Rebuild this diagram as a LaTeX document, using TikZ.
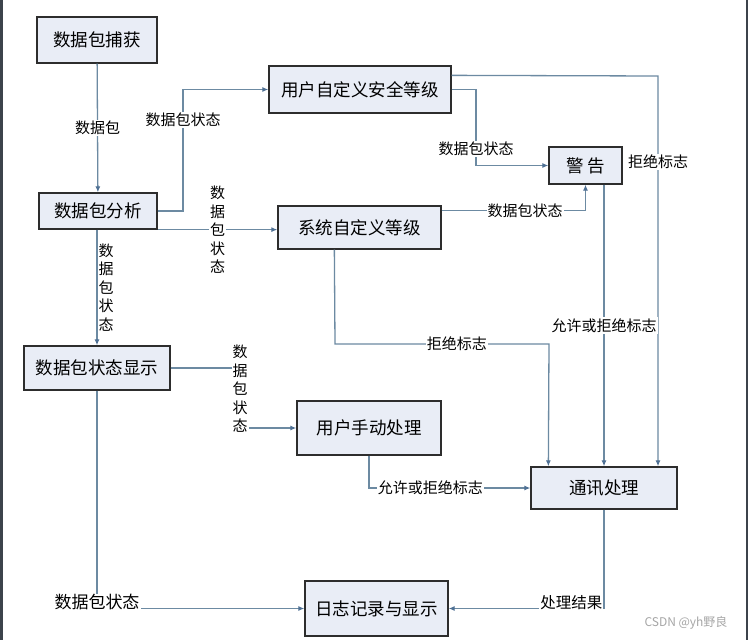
\documentclass[tikz,border=0pt]{standalone}
\usepackage{fontspec}
\usepackage{tikz}
\usetikzlibrary{arrows.meta}
\newfontfamily\cjk{Noto Sans CJK SC}
\definecolor{linec}{RGB}{108,138,162}
\definecolor{tipc}{RGB}{78,112,148}
\definecolor{boxfill}{RGB}{233,237,246}
\definecolor{boxline}{RGB}{45,45,45}
\definecolor{framec}{RGB}{60,67,75}

\begin{document}
\begin{tikzpicture}[x=1pt,y=-1pt]
\tikzstyle{box}=[draw=boxline, fill=boxfill, line width=1.3pt, inner sep=0pt, font=\cjk\fontsize{17.5}{20}\selectfont]
\tikzstyle{lbl}=[fill=white, inner sep=1pt, font=\cjk\fontsize{15}{18}\selectfont]
\tikzstyle{vlbl}=[lbl, align=center, font=\cjk\fontsize{15}{18.5}\selectfont]
\tikzstyle{flow}=[draw=linec, line width=1.3pt, -{Latex[length=6pt,width=5pt,color=tipc]}]
\useasboundingbox (0,0) rectangle (748,640);
\fill[white] (0,0) rectangle (748,640);
\fill[framec] (0,0) rectangle (2.5,640);
\fill[framec] (745.5,0) rectangle (748,640);
% boxes
\node[box, minimum width=120pt, minimum height=46pt] (cap) at (97,40) {数据包捕获};
\node[box, minimum width=118pt, minimum height=36pt] (ana) at (98,211) {数据包分析};
\node[box, minimum width=182pt, minimum height=47pt] (usr) at (360,89.5) {用户自定义安全等级};
\node[box, minimum width=163pt, minimum height=43pt] (sys) at (359.5,227.5) {系统自定义等级};
\node[box, minimum width=73pt, minimum height=37pt] (warn) at (585.5,165.5) {警\ 告};
\node[box, minimum width=146pt, minimum height=44pt] (disp) at (97,368) {数据包状态显示};
\node[box, minimum width=144pt, minimum height=54pt] (man) at (369,428) {用户手动处理};
\node[box, minimum width=146pt, minimum height=42pt] (comm) at (604,488) {通讯处理};
\node[box, minimum width=143pt, minimum height=55pt] (log) at (376.5,608.5) {日志记录与显示};
% connectors
\draw[flow] (cap) -- node[lbl]{数据包} (ana);
\draw[flow] (ana.east) -- (183,211) -- node[lbl,pos=0.75]{数据包状态} (183,89.5) -- (usr.west);
\draw[flow] (ana.south east) -- node[vlbl]{数\\据\\包\\状\\态} (sys.west |- ana.south east);
\draw[flow] (ana.south -| disp.north) -- node[vlbl,anchor=west]{数\\据\\包\\状\\态} (disp.north);
\draw[flow] (usr.east) -- (476,89.5) -- node[lbl,pos=0.78]{数据包状态} (476,165.5) -- (warn.west);
\draw[flow] ([yshift=-10pt]usr.north east) -- (658,76) -- node[lbl,pos=0.22]{拒绝标志} (658,0 |- comm.north);
\draw[flow] ([yshift=-5pt]sys.north east) -| node[lbl,pos=0.29]{数据包状态} (warn.south);
\draw[flow] (warn.south -| comm.north) -- node[lbl]{允许或拒绝标志} (comm.north);
\draw[flow] ([xshift=57pt]sys.south west) -- (335,344) -- node[lbl,pos=0.57]{拒绝标志} (549,344) -- ([xshift=18pt]comm.north west);
\draw[flow] (disp.east) -- (240,368) -- node[vlbl,pos=0.35]{数\\据\\包\\状\\态} (240,428) -- (man.west);
\draw[flow] (man.south) |- node[lbl,pos=0.69]{允许或拒绝标志} (comm.west);
\draw[flow] (disp.south) |- node[lbl,yshift=6pt,font=\cjk\fontsize{17}{19}\selectfont]{数据包状态} (log.west);
\draw[flow] (comm.south) |- node[lbl,anchor=east,yshift=6pt,font=\cjk\fontsize{15.5}{18}\selectfont]{处理结果} (log.east);
% watermark
\node[font=\cjk\fontsize{12}{14}\selectfont, text=black!35] (mark) at (686,623) {CSDN @yh野良};
\end{tikzpicture}
\end{document}
